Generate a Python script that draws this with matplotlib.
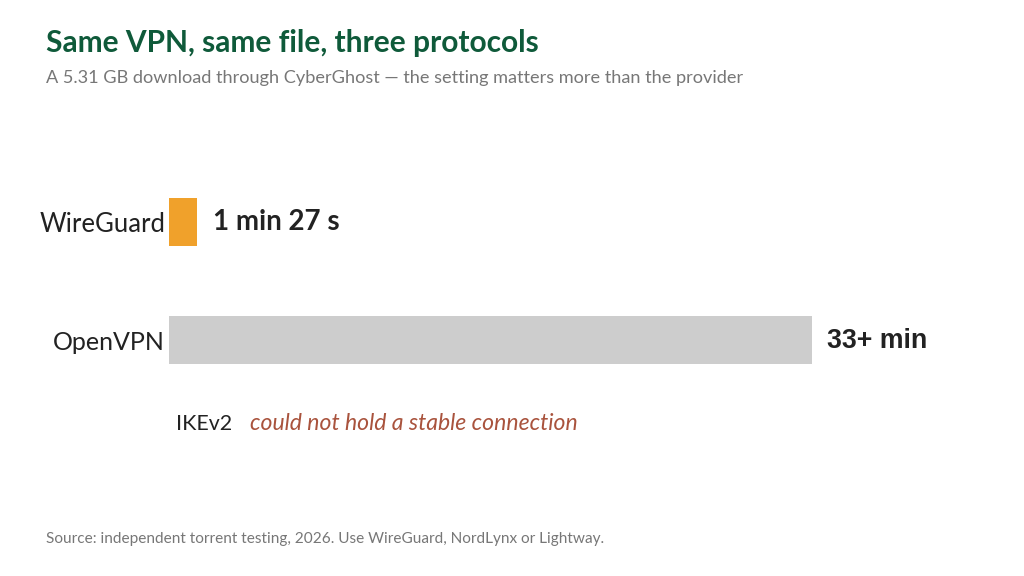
import matplotlib.pyplot as plt

# --------------------------------------------------
# Data
# --------------------------------------------------

protocols = ["WireGuard", "OpenVPN"]
minutes = [87 / 60, 33]
value_labels = ["1 min 27 s", "33+ min"]
bar_colors = ["#f0a12b", "#cdcdcd"]
label_sizes = [18.5, 18]

failed_protocol = "IKEv2"
failed_note = "could not hold a stable connection"

title = "Same VPN, same file, three protocols"
subtitle = "A 5.31 GB download through CyberGhost \u2014 the setting matters more than the provider"
source = "Source: independent torrent testing, 2026. Use WireGuard, NordLynx or Lightway."

# --------------------------------------------------
# Figure
# --------------------------------------------------

W, H = 1024, 576
fig = plt.figure(figsize=(W / 100, H / 100), dpi=100)
fig.patch.set_facecolor("white")

# axes placed in pixels: left 169, right 969, top 160, bottom 480
ax = fig.add_axes([169 / W, 1 - 480 / H, 800 / W, 320 / H])
ax.set_xlim(0, 33 * 800 / 643)
ax.set_ylim(258 / 118, -62 / 118)
ax.axis("off")

ypos = list(range(len(protocols)))

ax.barh(ypos, minutes, height=0.4, color=bar_colors)

for y, name, fs in zip(ypos, protocols, label_sizes):
    ax.text(-0.2, y + 0.02, name, ha="right", va="center",
            fontsize=fs, family="Lato", color="#222222")

ax.annotate(value_labels[0], xy=(minutes[0], 0), xytext=(11, 0),
            textcoords="offset points", ha="left", va="center",
            fontsize=20, family="Lato", weight="bold", color="#222222")
ax.annotate(value_labels[1], xy=(minutes[1], 1.01), xytext=(11, 0),
            textcoords="offset points", ha="left", va="center",
            fontsize=19.3, family="Liberation Sans", weight="bold", color="#222222")

ax.text(0.35, 1.71, failed_protocol, ha="left", va="center",
        fontsize=15.4, family="Lato", color="#222222")
ax.text(4.18, 1.71, failed_note, ha="left", va="center",
        fontsize=16.6, family="Lato", style="italic", color="#a9533d")

# --------------------------------------------------
# Titles
# --------------------------------------------------

fig.text(46 / W, 1 - 43 / H, title, ha="left", va="center",
         fontsize=21.5, family="Lato", weight="bold", color="#0f5a3a")
fig.text(46 / W, 1 - 78 / H, subtitle, ha="left", va="center",
         fontsize=13.1, family="Lato", color="#777777")
fig.text(46 / W, 1 - 539 / H, source, ha="left", va="center",
         fontsize=11.1, family="Lato", color="#777777")

plt.savefig("out.png", dpi=100)
plt.close()
